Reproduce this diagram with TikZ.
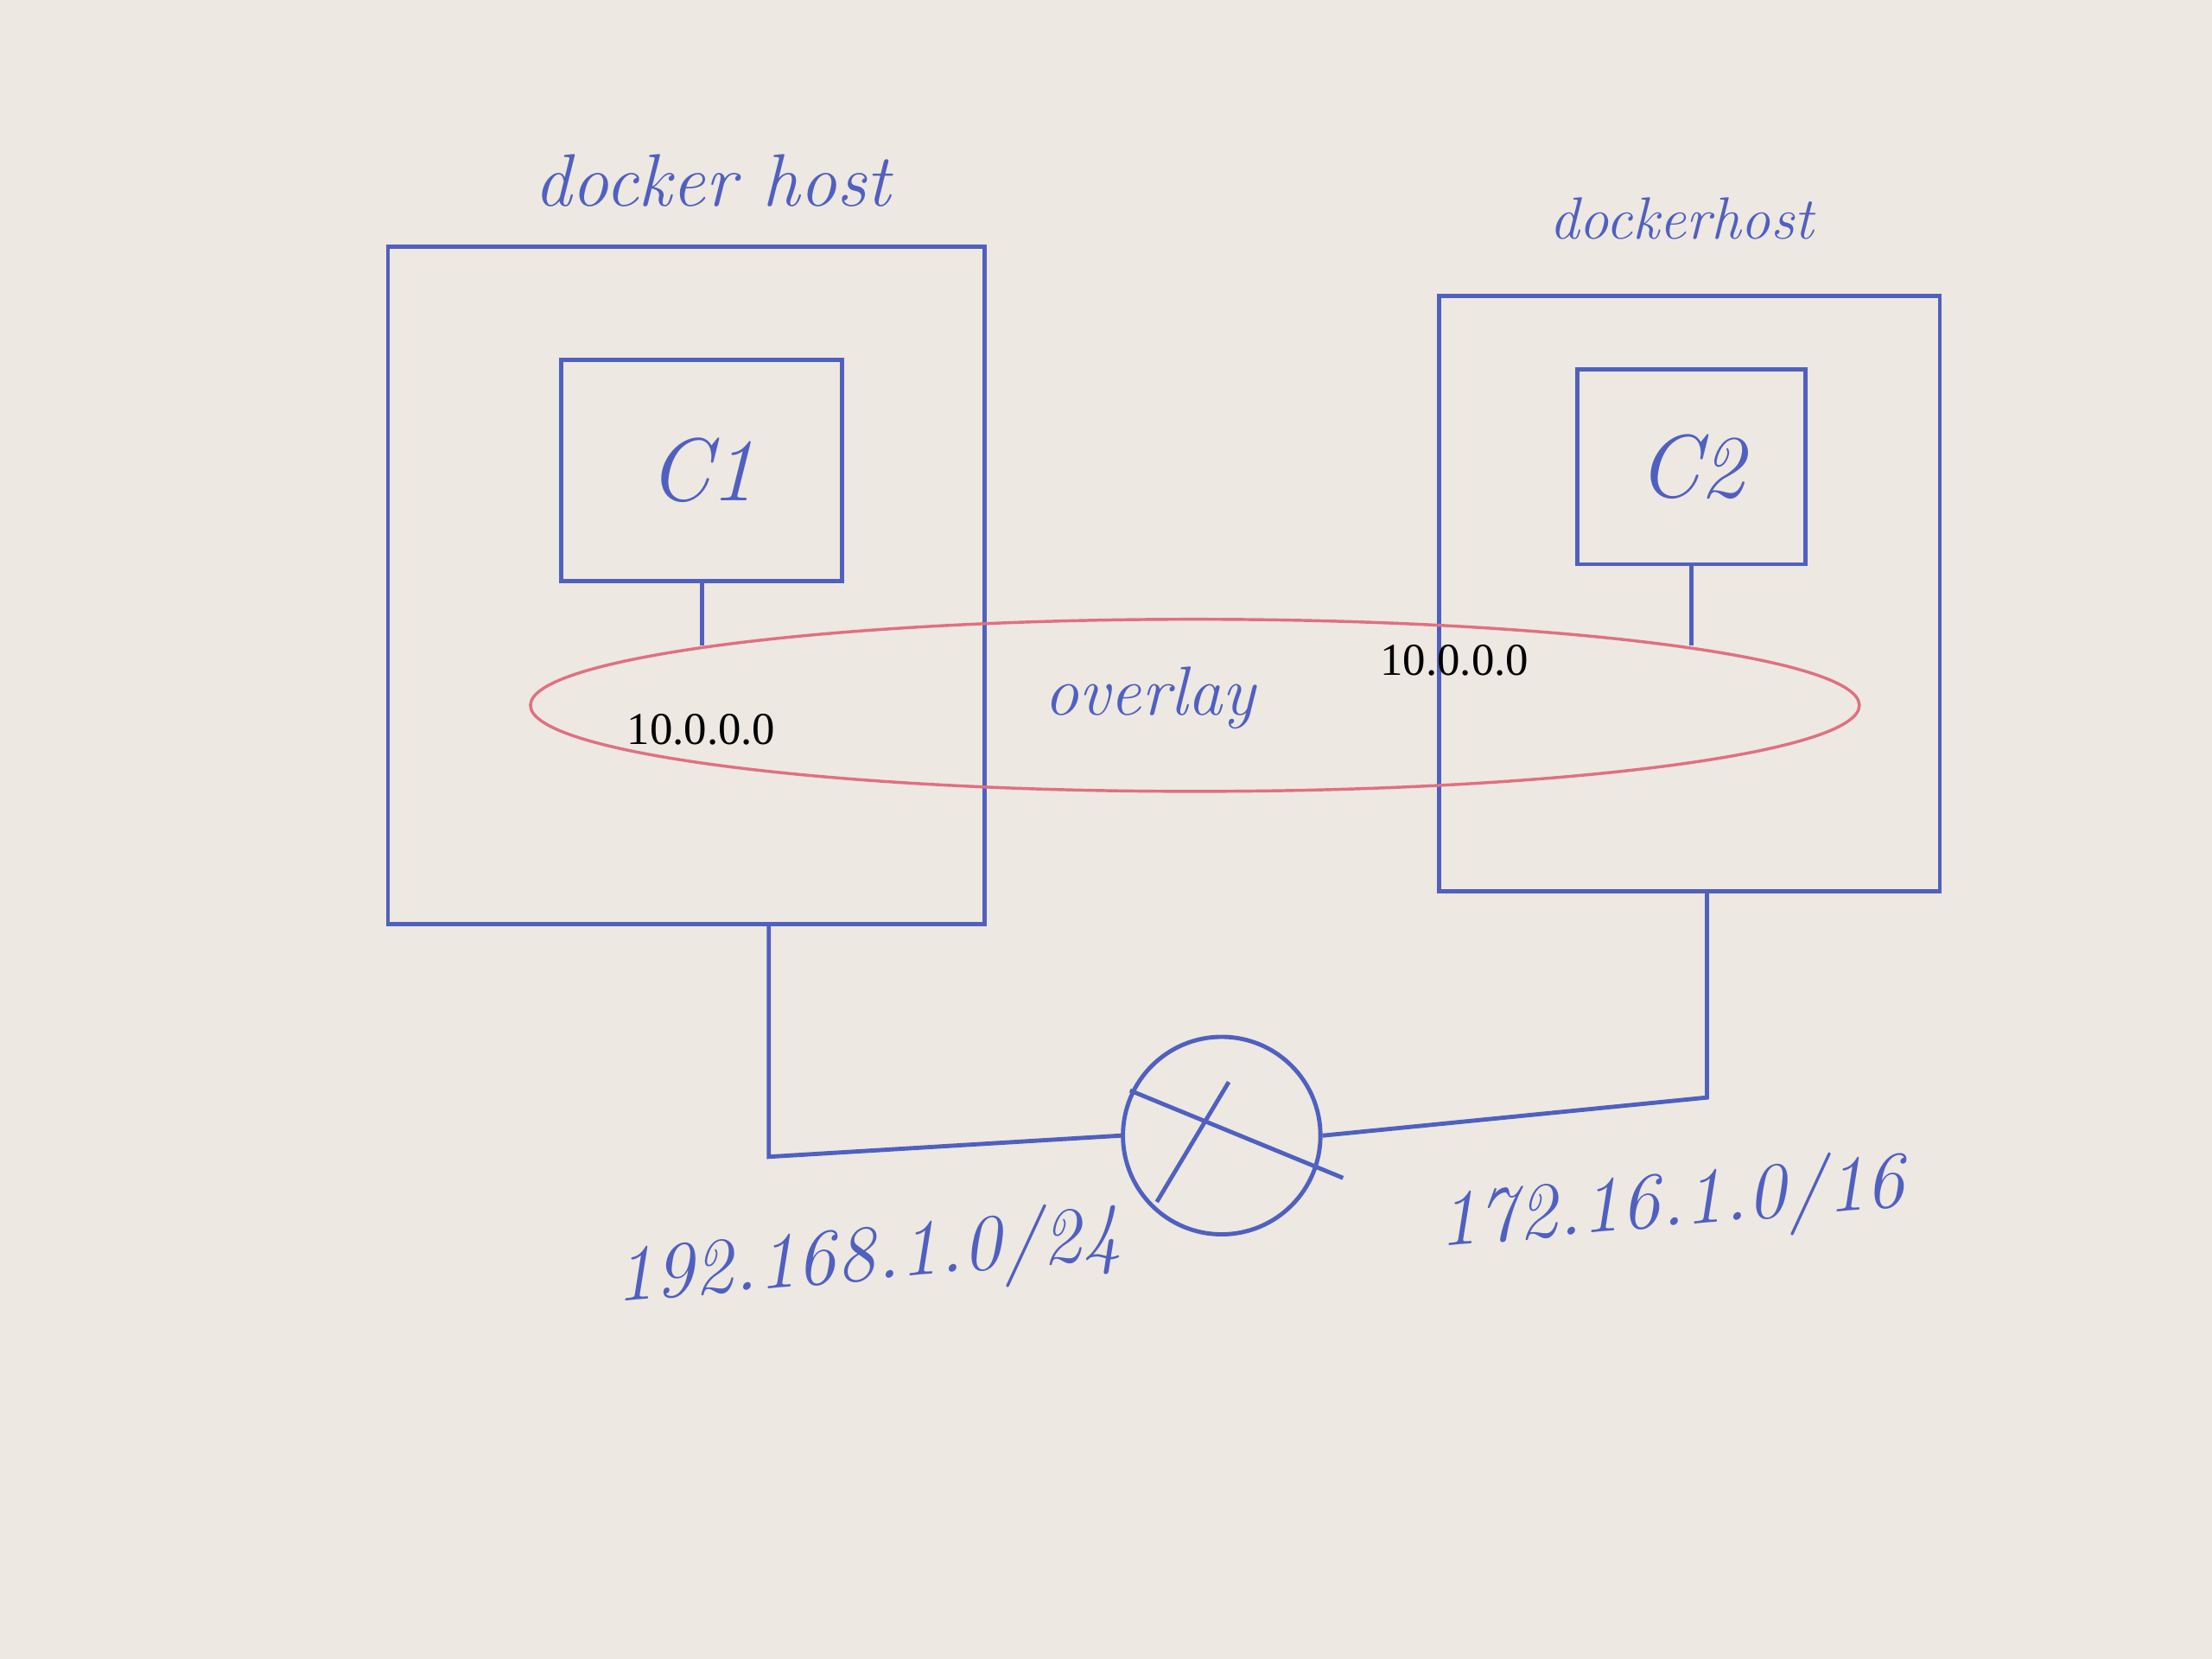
\documentclass[tikz,border=0pt]{standalone}
\usepackage{fontspec}
\newfontfamily\typedfont{Liberation Serif}
\usetikzlibrary{shapes.geometric}
\definecolor{pen}{RGB}{80,96,192}
\definecolor{redpen}{RGB}{224,112,128}
\definecolor{paper}{RGB}{237,232,226}

\begin{document}
\begin{tikzpicture}[
  box/.style={draw=pen,line width=0.85pt,inner sep=0pt},
  wire/.style={draw=pen,line width=0.85pt},
  hand/.style={text=pen,font=\itshape\fontsize{#1}{#1}\selectfont},
  typed/.style={text=black,font=\typedfont\fontsize{9.2}{11}\selectfont}
]
  \fill[paper] (0,0) rectangle (15.68,11.76);
  \useasboundingbox (0,0) rectangle (15.68,11.76);
  % hosts and containers
  \node[box,minimum width=4.23cm,minimum height=4.80cm] (host1) at (4.865,7.61) {};
  \node[box,minimum width=3.55cm,minimum height=4.22cm] (host2) at (11.975,7.55) {};
  \node[box,minimum width=1.99cm,minimum height=1.57cm,hand=18] (c1) at (4.975,8.425) {C1};
  \node[box,minimum width=1.62cm,minimum height=1.38cm,hand=18] (c2) at (11.99,8.45) {C2};
  \node[hand=15] (host1lbl) at (5.05,10.48) {docker host};
  \node[hand=12] (host2lbl) at (11.92,10.21) {dockerhost};
  % overlay
  \node[draw=redpen,ellipse,line width=0.6pt,minimum width=9.42cm,minimum height=1.22cm,inner sep=0pt] (overlay) at (8.47,6.76) {};
  \node[hand=14] (ovlbl) at (8.15,6.81) {overlay};
  \draw[wire] (c1.south) -- (c1.south |- overlay.173);
  \draw[wire] (c2.south) -- (c2.south |- overlay.7);
  \node[typed] (ip1) at (4.97,6.59) {10.0.0.0};
  \node[typed] (ip2) at (10.31,7.08) {10.0.0.0};
  % switch
  \node[box,circle,minimum size=1.4cm] (sw) at (8.66,3.71) {};
  \draw[wire] (sw) ++(-0.65,0.32) -- ++(1.51,-0.62);
  \draw[wire] (sw) ++(0.05,0.38) -- ++(-0.51,-0.85);
  \coordinate (p1) at (5.45,3.56);
  \coordinate (p2) at (12.1,3.98);
  \draw[wire] (host1.south -| p1) -- (p1) -- (sw.west);
  \draw[wire] (host2.south -| p2) -- (p2) -- (sw.east);
  \node[hand=16,rotate=5] (net1) at (6.15,2.83) {192.168.1.0/24};
  \node[hand=16,rotate=5] (net2) at (11.85,3.21) {172.16.1.0/16};
\end{tikzpicture}
\end{document}
